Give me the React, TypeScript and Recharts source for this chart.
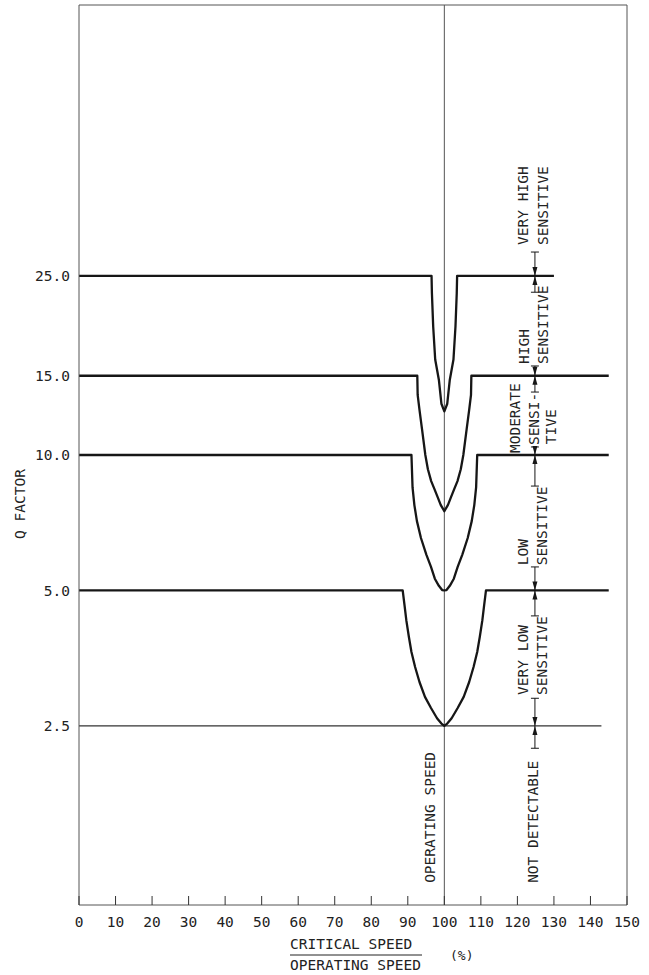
import { LineChart, Line, XAxis, YAxis, ReferenceLine, ReferenceDot } from 'recharts'

// Q factor vs critical speed / operating speed (%) — sensitivity bands.
const speedTicks = [0, 10, 20, 30, 40, 50, 60, 70, 80, 90, 100, 110, 120, 130, 140, 150]
const qTicks = [2.5, 5, 10, 15, 25]

// Q = 25 curve (dips to 12.5 at operating speed)
const q25Speed = [0, 96.5, 96.6, 96.95, 97.5, 98.5, 99.2, 100, 100.8, 101.5, 102.5, 103.05, 103.4, 103.5, 130]
const q25Value = [25, 25, 22.9, 19.3, 16.3, 14.7, 13.0, 12.5, 13.0, 14.7, 16.3, 19.3, 22.9, 25, 25]

// Q = 15 curve (dips to 7.5)
const q15Speed = [0, 92.6, 92.7, 93.2, 93.9, 94.8, 95.5, 96.4, 97.3, 98.2, 99.0, 100, 101.0, 101.8, 102.7, 103.6, 104.5, 105.2, 106.1, 106.8, 107.3, 107.4, 145]
const q15Value = [15, 15, 13.6, 12.6, 11.4, 10.0, 9.3, 8.75, 8.4, 8.05, 7.75, 7.5, 7.75, 8.05, 8.4, 8.75, 9.3, 10.0, 11.4, 12.6, 13.6, 15, 15]

// Q = 10 curve (dips to 5)
const q10Speed = [0, 91.0, 91.3, 91.8, 92.5, 93.6, 95.1, 96.35, 97.4, 98.5, 99.4, 100, 100.6, 101.5, 102.6, 103.65, 104.9, 106.4, 107.5, 108.2, 108.7, 109.0, 145]
const q10Value = [10, 10, 8.47, 7.74, 7.13, 6.54, 6.0, 5.64, 5.31, 5.12, 5.01, 5.0, 5.01, 5.12, 5.31, 5.64, 6.0, 6.54, 7.13, 7.74, 8.47, 10, 10]

// Q = 5 curve (dips to 2.5)
const q5Speed = [0, 88.6, 89.1, 89.6, 90.3, 91.0, 92.0, 93.2, 94.7, 96.35, 98.0, 99.2, 100, 100.8, 102.0, 103.65, 105.3, 106.8, 108.0, 109.0, 109.7, 110.4, 110.9, 111.4, 145]
const q5Value = [5, 5, 4.64, 4.29, 3.94, 3.65, 3.38, 3.13, 2.90, 2.74, 2.60, 2.53, 2.5, 2.53, 2.60, 2.74, 2.90, 3.13, 3.38, 3.65, 3.94, 4.29, 4.64, 5, 5]

// thin detectability threshold
const thresholdQ = 2.5
const thresholdEnd = 143
const operatingSpeed = 100

// dimension arrows on the right
const dimSpeed = 124.8
const bandLevels = [25, 15, 10, 5, 2.5]
const leaderFrom = [28.25, 23.0, 15.77, 13.8, 10.42, 8.53, 5.64, 4.39, 2.88, 2.23]
const leaderTo = [25, 25, 15, 15, 10, 10, 5, 5, 2.5, 2.5]

const labelText = ['VERY HIGH', 'SENSITIVE', 'HIGH', 'SENSITIVE', 'MODERATE', 'SENSI-', 'TIVE', 'LOW', 'SENSITIVE', 'VERY LOW', 'SENSITIVE', 'NOT DETECTABLE', 'OPERATING SPEED']
const labelSpeed = [121.5, 127.0, 121.8, 127.0, 119.4, 124.6, 129.2, 121.5, 126.7, 121.5, 126.7, 124.3, 96.1]
const labelQ = [29.3, 29.3, 15.93, 15.93, 10.1, 10.52, 10.57, 5.69, 5.69, 2.93, 2.93, 1.12, 1.12]

const FONT = '"DejaVu Sans Mono", "Liberation Mono", monospace'
const FS = 14.5
const INK = '#161616'
const THIN = '#555'

function zip(speed: number[], q: number[]) {
  return speed.map((s, i) => ({ speed: s, q: q[i] }))
}

const curves = [
  zip(q25Speed, q25Value),
  zip(q15Speed, q15Value),
  zip(q10Speed, q10Value),
  zip(q5Speed, q5Value),
]

function SpeedTick({ x, y, payload }: any) {
  return (
    <g>
      <line x1={x} y1={y} x2={x} y2={y - 9} stroke="#333" strokeWidth={1} />
      <text x={x} y={y + 22} textAnchor="middle" fontFamily={FONT} fontSize={FS} fill="#222">
        {payload.value}
      </text>
    </g>
  )
}

function rotatedLabel(text: string) {
  return ({ cx, cy }: any) => (
    <text
      x={cx}
      y={cy}
      dy="0.35em"
      transform={`rotate(-90 ${cx} ${cy})`}
      fontFamily={FONT}
      fontSize={FS}
      fill="#222"
    >
      {text}
    </text>
  )
}

function DoubleArrow({ cx, cy }: any) {
  return (
    <g fill={INK} stroke="none">
      <path d={`M${cx - 2.5},${cy - 9} L${cx + 2.5},${cy - 9} L${cx},${cy} Z`} />
      <path d={`M${cx - 2.5},${cy + 9} L${cx + 2.5},${cy + 9} L${cx},${cy} Z`} />
    </g>
  )
}

function LeaderTick({ cx, cy }: any) {
  return <line x1={cx - 4} y1={cy} x2={cx + 4} y2={cy} stroke={INK} strokeWidth={1} />
}

export default function App() {
  return (
    <div style={{ position: 'absolute', left: 0, top: 0, background: '#fff' }}>
      <LineChart width={649} height={975} margin={{ top: 5, right: 22, bottom: 0, left: 0 }}>
        <XAxis
          type="number"
          dataKey="speed"
          domain={[0, 150]}
          ticks={speedTicks}
          interval={0}
          allowDataOverflow
          height={70}
          tickSize={0}
          tickMargin={0}
          tickLine={false}
          axisLine={{ stroke: THIN, strokeWidth: 1 }}
          tick={<SpeedTick />}
        />
        <YAxis
          type="number"
          scale="log"
          domain={[1, 100]}
          ticks={qTicks}
          interval={0}
          allowDataOverflow
          width={79}
          tickLine={false}
          tickMargin={3}
          axisLine={{ stroke: THIN, strokeWidth: 1 }}
          tickFormatter={(v: number) => v.toFixed(1)}
          tick={{ fontFamily: FONT, fontSize: FS, fill: '#222' }}
        />

        {/* frame top / right */}
        <ReferenceLine y={100} stroke={THIN} strokeWidth={1} />
        <ReferenceLine x={150} stroke={THIN} strokeWidth={1} />

        {/* operating speed + Q = 2.5 threshold */}
        <ReferenceLine x={operatingSpeed} stroke={THIN} strokeWidth={1} />
        <ReferenceLine
          segment={[{ x: 0, y: thresholdQ }, { x: thresholdEnd, y: thresholdQ }]}
          stroke="#333"
          strokeWidth={1.2}
        />

        {curves.map((d, i) => (
          <Line
            key={i}
            data={d}
            dataKey="q"
            type="linear"
            stroke={INK}
            strokeWidth={2.3}
            strokeLinejoin="round"
            dot={false}
            activeDot={false}
            isAnimationActive={false}
          />
        ))}

        {/* dimension leaders */}
        {leaderFrom.map((from, i) => (
          <ReferenceLine
            key={`seg-${i}`}
            segment={[{ x: dimSpeed, y: from }, { x: dimSpeed, y: leaderTo[i] }]}
            stroke={INK}
            strokeWidth={1}
          />
        ))}
        {leaderFrom.map((from, i) => (
          <ReferenceDot key={`tk-${i}`} x={dimSpeed} y={from} shape={LeaderTick} />
        ))}
        {bandLevels.map(level => (
          <ReferenceDot key={`ar-${level}`} x={dimSpeed} y={level} shape={DoubleArrow} />
        ))}

        {labelText.map((t, i) => (
          <ReferenceDot key={`lb-${i}`} x={labelSpeed[i]} y={labelQ[i]} shape={rotatedLabel(t)} />
        ))}

        {/* axis titles */}
        <text
          x={20}
          y={504}
          dy="0.35em"
          transform="rotate(-90 20 504)"
          textAnchor="middle"
          fontFamily={FONT}
          fontSize={FS}
          fill="#222"
        >
          Q FACTOR
        </text>
        <text x={290} y={949} fontFamily={FONT} fontSize={FS} fill="#222">CRITICAL SPEED</text>
        <line x1={290} y1={955} x2={422} y2={955} stroke="#222" strokeWidth={1} />
        <text x={290} y={970} fontFamily={FONT} fontSize={FS} fill="#222">OPERATING SPEED</text>
        <text x={450} y={960} fontFamily={FONT} fontSize={13} fill="#222">(%)</text>
      </LineChart>
    </div>
  )
}
